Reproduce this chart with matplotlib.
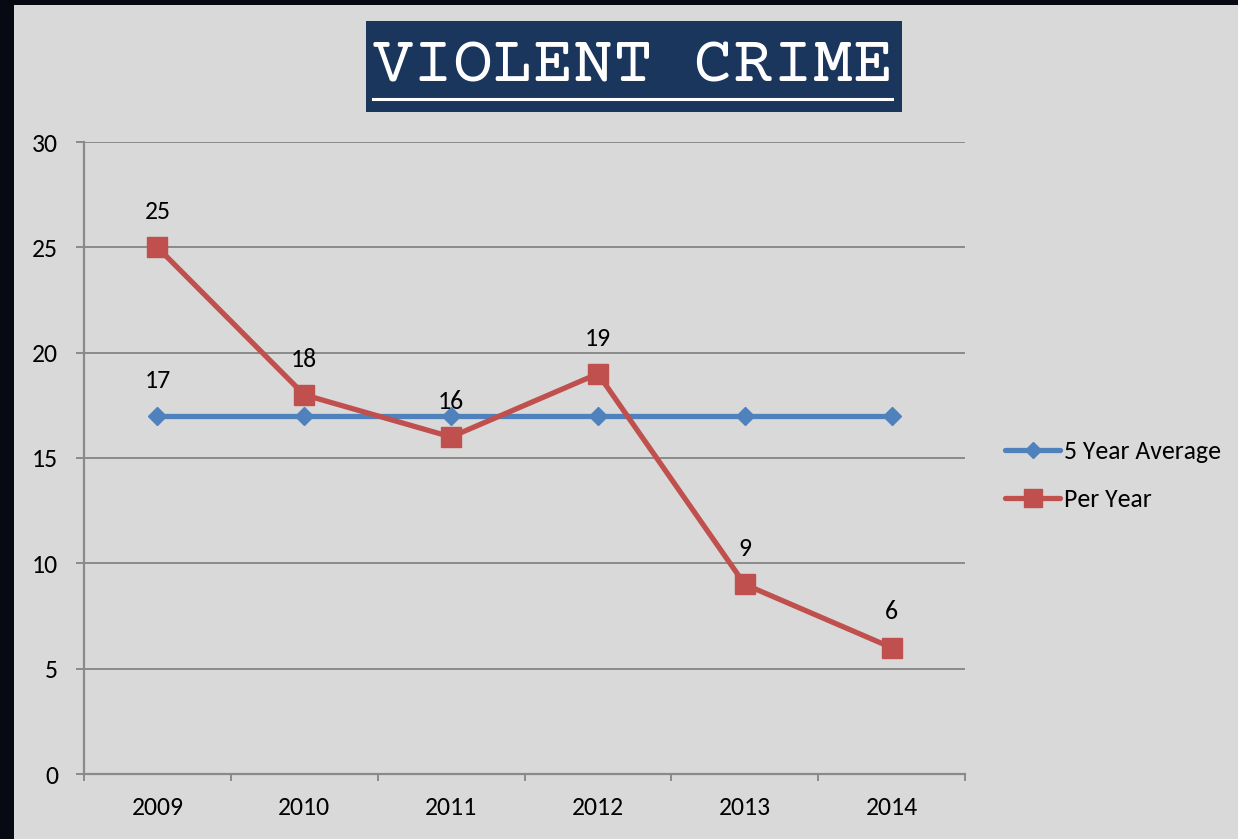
import matplotlib
matplotlib.use("Agg")
import matplotlib.pyplot as plt
from matplotlib.patches import Rectangle
from matplotlib.lines import Line2D

years = ["2009", "2010", "2011", "2012", "2013", "2014"]
avg_values = [17, 17, 17, 17, 17, 17]
per_year_values = [25, 18, 16, 19, 9, 6]
avg_labels = ["17", "", "", "", "", ""]
per_year_labels = ["25", "18", "16", "19", "9", "6"]
y_ticks = [0, 5, 10, 15, 20, 25, 30]
title_text = "VIOLENT CRIME"

W, H = 1238, 839
FONT = ["Carlito", "DejaVu Sans"]
FS = 18.5
BLUE = "#4f81bd"
RED = "#c0504d"
GRID = "#8a8a8a"

fig = plt.figure(figsize=(W / 100, H / 100), dpi=100, facecolor="#070a12")

def fx(px):
    return px / W

def fy(py):
    return 1 - py / H

# light gray slide area
fig.patches.append(Rectangle((fx(14), 0), 1 - fx(14), fy(5), transform=fig.transFigure,
                             facecolor="#d9d9d9", edgecolor="none", zorder=-10))

# title box
fig.patches.append(Rectangle((fx(366), fy(112)), fx(902) - fx(366), fy(21) - fy(112),
                             transform=fig.transFigure, facecolor="#1b365d",
                             edgecolor="none", zorder=-5))
fig.text(fx(633), fy(66), title_text, color="white", fontsize=48,
         family=["Courier Prime", "Liberation Mono", "DejaVu Sans Mono"],
         ha="center", va="center", zorder=2)
fig.lines.append(Line2D([fx(373), fx(892)], [fy(98.5), fy(98.5)], transform=fig.transFigure,
                        color="white", lw=2.2, zorder=2))

ax = fig.add_axes([fx(84), fy(774), fx(965) - fx(84), fy(142) - fy(774)])
ax.set_facecolor("none")
ax.set_zorder(5)

x = list(range(len(years)))
ax.plot(x, avg_values, color=BLUE, lw=3.8, marker="D", markersize=9.5,
        markeredgecolor=BLUE, label="5 Year Average", zorder=3, solid_capstyle="round")
ax.plot(x, per_year_values, color=RED, lw=3.8, marker="s", markersize=14.5,
        markeredgecolor=RED, label="Per Year", zorder=4, solid_capstyle="round")

for xi, v, lab in zip(x, avg_values, avg_labels):
    if lab:
        ax.annotate(lab, (xi, v), xytext=(0, 25.7), textcoords="offset points",
                    ha="center", va="center", fontsize=FS, family=FONT, color="black")
for xi, v, lab in zip(x, per_year_values, per_year_labels):
    ax.annotate(lab, (xi, v), xytext=(0, 25.7), textcoords="offset points",
                ha="center", va="center", fontsize=FS, family=FONT, color="black")

ax.set_xlim(-0.5, len(years) - 0.5)
ax.set_ylim(0, 30)
ax.set_yticks(y_ticks)
ax.set_yticklabels([str(t) for t in y_ticks], fontsize=FS, family=FONT)
ax.set_xticks(x)
ax.set_xticklabels(years, fontsize=FS, family=FONT)
ax.set_xticks([i - 0.5 for i in range(len(years) + 1)], minor=True)
ax.tick_params(axis="x", which="major", length=0, pad=16)
ax.tick_params(axis="x", which="minor", length=5, width=1.4, color=GRID, direction="out")
ax.tick_params(axis="y", which="major", length=5.8, width=1.4, color=GRID, pad=13)

ax.grid(axis="y", color=GRID, lw=1.4)
ax.set_axisbelow(True)
for s in ["top", "right"]:
    ax.spines[s].set_visible(False)
for s in ["left", "bottom"]:
    ax.spines[s].set_color(GRID)
    ax.spines[s].set_linewidth(1.6)

fig.legend(loc="center left", bbox_to_anchor=(fx(1005), fy(475.5)), frameon=False,
           prop={"family": FONT, "size": FS}, handlelength=2.15, handletextpad=0.15,
           labelspacing=1.0, borderpad=0, borderaxespad=0, markerscale=0.85)

fig.savefig("out.png", dpi=100, facecolor=fig.get_facecolor())
